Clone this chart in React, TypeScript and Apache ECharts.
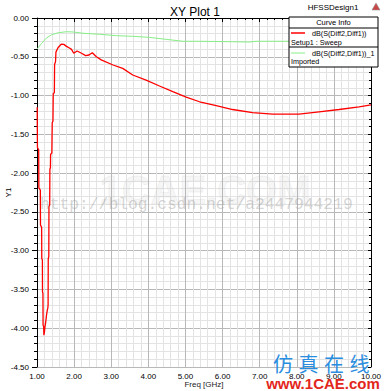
import React, { useEffect, useRef } from "react";
import * as echarts from "echarts";

// ---- data ----
const freqRed = [
  1.005, 1.012, 1.045, 1.05, 1.09, 1.094, 1.125, 1.129, 1.145, 1.148, 1.16, 1.164, 1.18, 1.185,
  1.2, 1.215, 1.229, 1.25, 1.256, 1.28, 1.292, 1.299, 1.303, 1.318, 1.322, 1.342, 1.347, 1.362,
  1.366, 1.4, 1.41, 1.43, 1.437, 1.468, 1.474, 1.5, 1.51, 1.569, 1.66, 1.722, 1.795, 1.884, 1.93,
  1.99, 2.08, 2.2, 2.31, 2.4, 2.49, 2.6, 2.73, 3.05, 3.31, 3.58, 3.94, 4.3, 4.66, 5.02, 5.38, 5.83,
  6.27, 6.81, 7.35, 8.06, 8.6, 9.14, 9.68, 10.0,
];
const valRed = [
  -1.15, -1.67, -1.7, -2.19, -2.22, -2.67, -2.7, -3.1, -3.12, -3.53, -3.55, -3.96, -3.98, -4.09,
  -4.05, -3.98, -3.94, -3.86, -3.83, -3.76, -3.74, -3.7, -3.1, -3.08, -2.43, -2.41, -1.95, -1.93,
  -1.76, -1.74, -1.35, -1.33, -0.98, -0.96, -0.6, -0.56, -0.44, -0.38, -0.336, -0.34, -0.366,
  -0.39, -0.405, -0.455, -0.425, -0.455, -0.485, -0.477, -0.447, -0.5, -0.54, -0.606, -0.65,
  -0.735, -0.8, -0.877, -0.95, -1.02, -1.08, -1.13, -1.18, -1.22, -1.24, -1.24, -1.21, -1.18,
  -1.145, -1.12,
];
const freqGreen = [
  1.0, 1.12, 1.25, 1.39, 1.57, 1.79, 1.97, 2.24, 2.69, 3.14, 3.58, 4.03, 4.48, 4.93, 5.38, 6.27,
  6.72, 6.9, 7.7, 8.5, 9.3, 10.0,
];
const valGreen = [
  -0.4, -0.33, -0.26, -0.216, -0.19, -0.177, -0.18, -0.197, -0.21, -0.228, -0.236, -0.25, -0.275,
  -0.3, -0.3, -0.306, -0.31, -0.3, -0.3, -0.3, -0.3, -0.3,
];
const xTicks = { min: 1, max: 10, interval: 1 };
const yTicks = { min: -4.5, max: 0, interval: 0.5 };
const seriesNames = ["dB(S(Diff2,Diff1))", "dB(S(Diff2,Diff1))_1"];
const seriesSubs = ["Setup1 : Sweep", "Imported"];

const FONT = "'Liberation Sans', Arial, sans-serif";

export default function App() {
  const ref = useRef<HTMLDivElement>(null);
  useEffect(() => {
    if (!ref.current) return;
    const chart = echarts.init(ref.current, undefined, { renderer: "svg" });
    const redData = freqRed.map((f, i) => [f, valRed[i]]);
    const greenData = freqGreen.map((f, i) => [f, valGreen[i]]);
    const mainAxisCommon = {
      type: "value" as const,
      axisLine: { show: true, lineStyle: { color: "#000", width: 1 } },
      splitLine: { show: true, lineStyle: { color: "#b8b8b8", width: 1 } },
      minorSplitLine: { show: true, lineStyle: { color: "#e3e3e3", width: 1 } },
    };
    const sideAxisCommon = {
      type: "value" as const,
      axisLine: { show: true, onZero: false, lineStyle: { color: "#000", width: 1 } },
      axisTick: { show: true, inside: true, length: 3, lineStyle: { color: "#000" } },
      minorTick: { show: true, splitNumber: 5, length: 2, lineStyle: { color: "#000" } },
      axisLabel: { show: false },
      splitLine: { show: false },
    };
    const legendX = 289;
    const legendY = 17;
    const legendW = 89;
    const legendH = 50;
    const tf = (t: string, x: number, y: number, size: number, extra: any = {}) => ({
      type: "text",
      z: 100,
      style: {
        text: t,
        x,
        y,
        fill: "#000",
        fontSize: size,
        fontFamily: FONT,
        textVerticalAlign: "middle",
        ...extra,
      },
    });
    const option: any = {
      animation: false,
      backgroundColor: "#fff",
      title: {
        text: "XY Plot 1",
        left: 190,
        top: 1,
        textAlign: "center",
        textStyle: { fontSize: 12, fontWeight: "normal", color: "#000", fontFamily: FONT },
      },
      grid: {
        left: 37,
        right: 14,
        top: 18,
        bottom: 24,
        containLabel: false,
        outerBoundsMode: "none",
      },
      xAxis: [
        {
          ...mainAxisCommon,
          position: "bottom",
          ...xTicks,
          axisTick: { show: true, length: 4, lineStyle: { color: "#000" } },
          minorTick: { show: true, splitNumber: 5, length: 2, lineStyle: { color: "#000" } },
          axisLabel: {
            formatter: (v: number) => v.toFixed(2),
            fontSize: 8,
            color: "#000",
            margin: 5,
            fontFamily: FONT,
            showMaxLabel: true,
          },
          name: "Freq [GHz]",
          nameLocation: "middle",
          nameGap: 13,
          nameMoveOverlap: false,
          nameTextStyle: { fontSize: 8, color: "#222", fontFamily: FONT },
        },
        { ...sideAxisCommon, position: "top", ...xTicks },
      ],
      yAxis: [
        {
          ...mainAxisCommon,
          position: "left",
          ...yTicks,
          axisTick: { show: true, length: 5, lineStyle: { color: "#000" } },
          minorTick: { show: true, splitNumber: 5, length: 3, lineStyle: { color: "#000" } },
          axisLabel: {
            formatter: (v: number) => v.toFixed(2),
            fontSize: 8,
            color: "#000",
            margin: 8,
            fontFamily: FONT,
          },
          name: "Y1",
          nameLocation: "middle",
          nameGap: 25,
          nameMoveOverlap: false,
          nameTextStyle: { fontSize: 8, color: "#000", fontFamily: FONT },
        },
        { ...sideAxisCommon, position: "right", ...yTicks },
      ],
      series: [
        {
          name: seriesNames[0],
          type: "line",
          data: redData,
          xAxisIndex: 0,
          yAxisIndex: 0,
          showSymbol: false,
          symbol: "none",
          lineStyle: { color: "#ff0000", width: 1.3 },
          z: 3,
        },
        {
          name: seriesNames[1],
          type: "line",
          data: greenData,
          xAxisIndex: 0,
          yAxisIndex: 0,
          showSymbol: false,
          symbol: "none",
          lineStyle: { color: "#86ee86", width: 1 },
          z: 2,
        },
      ],
      graphic: [
        // faint watermarks
        {
          type: "text",
          z: 90,
          style: {
            text: "1CAE.COM",
            x: 205,
            y: 190,
            fill: "rgba(190,190,190,0.12)",
            stroke: "rgba(170,170,170,0.15)",
            lineWidth: 1,
            fontSize: 40,
            fontWeight: "bold",
            fontFamily: FONT,
            textAlign: "center",
            textVerticalAlign: "middle",
          },
        },
        {
          type: "text",
          z: 91,
          style: {
            text: "http://blog.csdn.net/a2447944219",
            x: 40,
            y: 204,
            fill: "rgba(150,150,150,0.4)",
            fontSize: 16.3,
            fontFamily: "'Liberation Mono', 'DejaVu Sans Mono', monospace",
            textVerticalAlign: "middle",
          },
        },
        // header texts
        tf("HFSSDesign1", 333, 7, 8, { textAlign: "center" }),
        {
          type: "polygon",
          z: 100,
          shape: { points: [[376, 3], [380, 10], [372, 10]] },
          style: { fill: "#c84848", stroke: "#8a8a8a", lineWidth: 0.5 },
        },
        // legend box
        {
          type: "rect",
          z: 99,
          shape: { x: legendX, y: legendY, width: legendW, height: legendH },
          style: { fill: "#fff", stroke: "#000", lineWidth: 1 },
        },
        {
          type: "line",
          z: 100,
          shape: { x1: legendX, y1: 28, x2: legendX + legendW, y2: 28 },
          style: { stroke: "#000", lineWidth: 1 },
        },
        {
          type: "line",
          z: 100,
          shape: { x1: legendX, y1: 47, x2: legendX + legendW, y2: 47 },
          style: { stroke: "#000", lineWidth: 1 },
        },
        tf("Curve Info", legendX + legendW / 2, 22.5, 7.5, { textAlign: "center" }),
        {
          type: "line",
          z: 100,
          shape: { x1: 291, y1: 33, x2: 305, y2: 33 },
          style: { stroke: "#ff0000", lineWidth: 1.5 },
        },
        tf(seriesNames[0], 312, 33, 7.2),
        tf(seriesSubs[0], 291, 42, 7.2),
        {
          type: "line",
          z: 100,
          shape: { x1: 291, y1: 53, x2: 305, y2: 53 },
          style: { stroke: "#86ee86", lineWidth: 1 },
        },
        tf(seriesNames[1], 312, 53, 7.2),
        tf(seriesSubs[1], 291, 61.5, 7.2),
        // bottom-right watermark
        ...["仿", "真", "在", "线"].map((c, i) => ({
          type: "text",
          z: 110,
          style: {
            text: c,
            x: 283 + i * 25.5,
            y: 363,
            fill: "#2a8ee0",
            fontSize: 20,
            fontFamily: "'Noto Sans CJK SC', sans-serif",
            textAlign: "center",
            textVerticalAlign: "middle",
          },
        })),
        {
          type: "text",
          z: 110,
          style: {
            text: "www.1CAE.com",
            x: 323,
            y: 383,
            fill: "#e3261c",
            fontSize: 15,
            fontWeight: "bold",
            fontFamily: FONT,
            textAlign: "center",
            textVerticalAlign: "middle",
          },
        },
      ],
    };
    chart.setOption(option);
    return () => chart.dispose();
  }, []);
  return (
    <div
      ref={ref}
      style={{ position: "fixed", left: 0, top: 0, width: 385, height: 391, background: "#fff" }}
    />
  );
}
